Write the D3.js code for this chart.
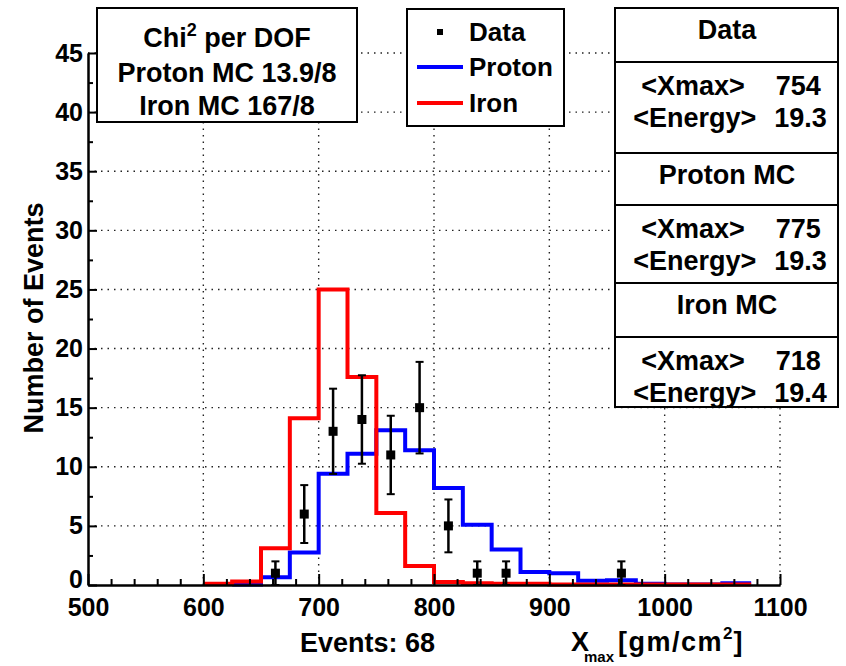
<!DOCTYPE html>
<html>
<head>
<meta charset="utf-8">
<script src="https://cdn.jsdelivr.net/npm/d3@7"></script>
<style>
  body { margin: 0; background: #fff; }
  text { font-family: "Liberation Sans", Arial, Helvetica, sans-serif; font-weight: bold; fill: #000; }
</style>
</head>
<body>
<div id="chart"></div>
<script>
// Chart values
const binWidth = 25;
const ironStart = 600;
const ironCounts = [0.1, 0.3, 3.1, 14.1, 25.0, 17.6, 6.1, 1.6, 0.25, 0.15, 0.1, 0.1, 0.05, 0.05, 0.05, 0.05, 0.05, 0.05, 0.05];
const protonStart = 625;
const protonCounts = [0.05, 0.65, 2.75, 9.4, 11.1, 13.1, 11.4, 8.2, 5.1, 3.0, 1.1, 1.0, 0.35, 0.4, 0.1, 0.05, 0.05, 0.15];
const dataCenters = [662.5, 687.5, 712.5, 737.5, 762.5, 787.5, 812.5, 837.5, 862.5, 962.5];
const dataCounts = [1, 6, 13, 14, 11, 15, 5, 1, 1, 1];

const xTicks = [500, 600, 700, 800, 900, 1000, 1100];
const yTicks = [0, 5, 10, 15, 20, 25, 30, 35, 40, 45];

const chiLines = ["Proton MC 13.9/8", "Iron MC 167/8"];
const legendLabels = ["Data", "Proton", "Iron"];
const statsTitles = ["Data", "Proton MC", "Iron MC"];
const statsXmax = ["754", "775", "718"];
const statsEnergy = ["19.3", "19.3", "19.4"];

const width = 846;
const height = 666;

const svg = d3.select("#chart").append("svg")
    .attr("width", width)
    .attr("height", height);

const x = d3.scaleLinear().domain([500, 1100]).range([88, 780]);
const y = d3.scaleLinear().domain([0, 45]).range([585, 53]);

// Grid (dotted)
const grid = svg.append("g")
    .attr("stroke", "#222")
    .attr("stroke-width", 1.4)
    .attr("stroke-dasharray", "1.5,5");
grid.selectAll("line.v")
    .data(xTicks.slice(1))
    .enter().append("line")
    .attr("x1", d => x(d)).attr("x2", d => x(d))
    .attr("y1", y(0)).attr("y2", y(45));
grid.selectAll("line.h")
    .data(yTicks.slice(1))
    .enter().append("line")
    .attr("x1", x(500)).attr("x2", x(1100))
    .attr("y1", d => y(d)).attr("y2", d => y(d));

// Histograms
function histPoints(start, counts) {
    const pts = counts.map((c, i) => [start + i * binWidth, c]);
    pts.push([start + counts.length * binWidth, counts[counts.length - 1]]);
    return pts;
}
const step = d3.line()
    .x(d => x(d[0]))
    .y(d => y(d[1]))
    .curve(d3.curveStepAfter);

svg.append("path")
    .attr("d", step(histPoints(protonStart, protonCounts)))
    .attr("fill", "none")
    .attr("stroke", "#0000ff")
    .attr("stroke-width", 4);
svg.append("path")
    .attr("d", step(histPoints(ironStart, ironCounts)))
    .attr("fill", "none")
    .attr("stroke", "#ff0000")
    .attr("stroke-width", 4);

// Axes (ticks pointing inward)
const xAxis = svg.append("g")
    .attr("transform", `translate(0,${y(0)})`)
    .call(d3.axisBottom(x).tickValues(xTicks).tickFormat(d3.format("d"))
        .tickSize(-11).tickSizeOuter(0));
const xMinor = d3.range(500, 1101, 20).filter(v => v % 100 !== 0);
svg.append("g")
    .attr("transform", `translate(0,${y(0)})`)
    .call(d3.axisBottom(x).tickValues(xMinor).tickSize(-6).tickSizeOuter(0).tickFormat(""));

const yAxis = svg.append("g")
    .attr("transform", `translate(${x(500)},0)`)
    .call(d3.axisLeft(y).tickValues(yTicks).tickSize(-9).tickSizeOuter(0).tickPadding(5));
const yMinor = d3.range(2.5, 45, 5);
svg.append("g")
    .attr("transform", `translate(${x(500)},0)`)
    .call(d3.axisLeft(y).tickValues(yMinor).tickSize(-5).tickSizeOuter(0).tickFormat(""));

svg.selectAll(".domain").attr("stroke", "#000").attr("stroke-width", 2);
svg.selectAll(".tick line").attr("stroke", "#000").attr("stroke-width", 2);
xAxis.selectAll("text").attr("font-size", 25).attr("dy", null).attr("y", 31);
yAxis.selectAll("text").attr("font-size", 25);
yAxis.selectAll(".tick").filter(d => d === 0).select("text")
    .attr("x", -5).attr("dy", null).attr("y", 2);

// Data points with sqrt(N) errors
const pts = svg.append("g");
dataCenters.forEach((c, i) => {
    const n = dataCounts[i];
    const e = Math.sqrt(n);
    const px = x(c);
    pts.append("line")
        .attr("x1", px).attr("x2", px)
        .attr("y1", y(n - e)).attr("y2", y(n + e))
        .attr("stroke", "#000").attr("stroke-width", 2.5);
    [n - e, n + e].forEach(v => {
        pts.append("line")
            .attr("x1", px - 4).attr("x2", px + 4)
            .attr("y1", y(v)).attr("y2", y(v))
            .attr("stroke", "#000").attr("stroke-width", 2);
    });
    pts.append("rect")
        .attr("x", px - 4.5).attr("y", y(n) - 4.5)
        .attr("width", 9).attr("height", 9)
        .attr("fill", "#000");
});

// Axis titles
svg.append("text")
    .attr("transform", "translate(43,318) rotate(-90)")
    .attr("text-anchor", "middle")
    .attr("font-size", 27)
    .text("Number of Events");

svg.append("text")
    .attr("x", 300).attr("y", 652)
    .attr("font-size", 27)
    .text("Events: 68");

const xt = svg.append("text").attr("y", 651).attr("font-size", 27);
xt.append("tspan").attr("x", 571).text("X");
xt.append("tspan").attr("x", 584).attr("font-size", 15).attr("dy", 11).text("max");
xt.append("tspan").attr("x", 618).attr("dy", -11).attr("letter-spacing", 1.5).text("[gm/cm");
xt.append("tspan").attr("font-size", 17).attr("dy", -12).text("2");
xt.append("tspan").attr("dy", 12).attr("dx", 1).text("]");

// Chi2 box
svg.append("rect")
    .attr("x", 97).attr("y", 8).attr("width", 260).attr("height", 114)
    .attr("fill", "#fff").attr("stroke", "#000").attr("stroke-width", 2);
const chiTitle = svg.append("text")
    .attr("x", 227).attr("y", 47).attr("text-anchor", "middle").attr("font-size", 27);
chiTitle.append("tspan").text("Chi");
chiTitle.append("tspan").attr("font-size", 18).attr("dy", -11).text("2");
chiTitle.append("tspan").attr("dy", 11).text(" per DOF");
svg.selectAll("text.chi")
    .data(chiLines)
    .enter().append("text")
    .attr("class", "chi")
    .attr("x", 227).attr("y", (d, i) => 82 + i * 33)
    .attr("text-anchor", "middle").attr("font-size", 27)
    .text(d => d);

// Legend box
svg.append("rect")
    .attr("x", 407).attr("y", 9).attr("width", 157).attr("height", 117)
    .attr("fill", "#fff").attr("stroke", "#000").attr("stroke-width", 2);
const legY = [32, 67, 103];
svg.append("rect")
    .attr("x", 437).attr("y", legY[0] - 3).attr("width", 6).attr("height", 6)
    .attr("fill", "#000");
svg.append("line")
    .attr("x1", 417).attr("x2", 463).attr("y1", legY[1]).attr("y2", legY[1])
    .attr("stroke", "#0000ff").attr("stroke-width", 4);
svg.append("line")
    .attr("x1", 417).attr("x2", 463).attr("y1", legY[2]).attr("y2", legY[2])
    .attr("stroke", "#ff0000").attr("stroke-width", 4);
svg.selectAll("text.leg")
    .data(legendLabels)
    .enter().append("text")
    .attr("class", "leg")
    .attr("x", 469).attr("y", (d, i) => legY[i] + 9)
    .attr("font-size", 26)
    .text(d => d);

// Stats boxes
const headerTops = [8, 153, 283];
const bodyTops = [62, 205, 337];
const bodyBottoms = [153, 283, 407];
statsTitles.forEach((t, i) => {
    svg.append("rect")
        .attr("x", 615).attr("y", headerTops[i]).attr("width", 223).attr("height", bodyTops[i] - headerTops[i])
        .attr("fill", "#fff").attr("stroke", "#000").attr("stroke-width", 2);
    svg.append("rect")
        .attr("x", 615).attr("y", bodyTops[i]).attr("width", 223).attr("height", bodyBottoms[i] - bodyTops[i])
        .attr("fill", "#fff").attr("stroke", "#000").attr("stroke-width", 2);
    svg.append("text")
        .attr("x", 727).attr("y", headerTops[i] + 31)
        .attr("text-anchor", "middle").attr("font-size", 27)
        .text(t);
    const t1 = svg.append("text")
        .attr("x", 731).attr("y", bodyTops[i] + 33)
        .attr("text-anchor", "middle").attr("font-size", 27);
    t1.append("tspan").text("<Xmax>");
    t1.append("tspan").attr("dx", 31).text(statsXmax[i]);
    const t2 = svg.append("text")
        .attr("x", 730).attr("y", bodyTops[i] + 65)
        .attr("text-anchor", "middle").attr("font-size", 27);
    t2.append("tspan").text("<Energy>");
    t2.append("tspan").attr("dx", 18).text(statsEnergy[i]);
});
</script>
</body>
</html>
